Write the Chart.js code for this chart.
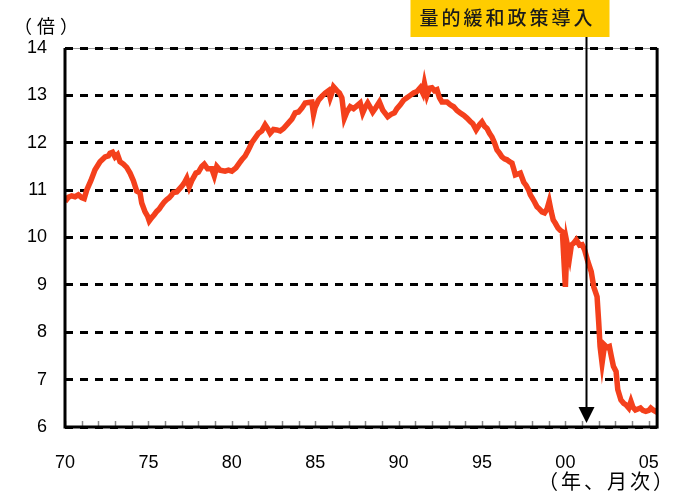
<!DOCTYPE html>
<html>
<head>
<meta charset="utf-8">
<script src="https://cdn.jsdelivr.net/npm/chart.js@4.4.1/dist/chart.umd.min.js"></script>
<style>
  html, body { margin: 0; padding: 0; background: #fff; }
</style>
</head>
<body>
<canvas id="chart" width="676" height="491"></canvas>
<script>
// 年（小数表示）と倍率
const dates = [
  1970.0, 1970.2, 1970.4, 1970.6, 1970.8, 1971.0, 1971.15, 1971.3, 1971.55, 1971.8,
  1972.1, 1972.4, 1972.6, 1972.7, 1972.85, 1973.0, 1973.15, 1973.3, 1973.5, 1973.7,
  1973.9, 1974.1, 1974.3, 1974.5, 1974.6, 1974.8, 1974.95, 1975.05, 1975.2, 1975.35,
  1975.5, 1975.65, 1975.8, 1975.95, 1976.1, 1976.25, 1976.4, 1976.5, 1976.7, 1976.85,
  1977.0, 1977.15, 1977.3, 1977.45, 1977.6, 1977.85, 1978.0, 1978.2, 1978.35, 1978.55,
  1978.8, 1978.95, 1979.1, 1979.3, 1979.6, 1979.8, 1980.0, 1980.25, 1980.45, 1980.6,
  1980.8, 1981.0, 1981.2, 1981.4, 1981.6, 1981.8, 1982.0, 1982.15, 1982.3, 1982.5,
  1982.7, 1982.9, 1983.1, 1983.4, 1983.6, 1983.8, 1984.0, 1984.2, 1984.4, 1984.6,
  1984.8, 1984.9, 1985.0, 1985.2, 1985.4, 1985.6, 1985.8, 1985.9, 1986.0, 1986.1,
  1986.3, 1986.45, 1986.6, 1986.75, 1986.9, 1987.1, 1987.3, 1987.5, 1987.7, 1987.85,
  1988.0, 1988.15, 1988.3, 1988.45, 1988.65, 1988.85, 1989.05, 1989.2, 1989.35, 1989.55,
  1989.75, 1989.9, 1990.1, 1990.3, 1990.5, 1990.7, 1990.9, 1991.1, 1991.3, 1991.45,
  1991.55, 1991.7, 1991.85, 1992.0, 1992.15, 1992.3, 1992.45, 1992.6, 1992.9, 1993.1,
  1993.3, 1993.5, 1993.7, 1993.9, 1994.1, 1994.3, 1994.45, 1994.65, 1994.85, 1995.0,
  1995.15, 1995.3, 1995.45, 1995.6, 1995.75, 1995.9, 1996.05, 1996.2, 1996.35, 1996.5,
  1996.65, 1996.8, 1996.9, 1997.0, 1997.15, 1997.3, 1997.5, 1997.65, 1997.8, 1997.9,
  1998.0, 1998.15, 1998.3, 1998.45, 1998.6, 1998.75, 1998.9, 1999.03, 1999.15, 1999.27,
  1999.4, 1999.56, 1999.7, 1999.82, 1999.9, 2000.0, 2000.1, 2000.26, 2000.36, 2000.5,
  2000.65, 2000.85, 2001.0, 2001.15, 2001.35, 2001.55, 2001.7, 2001.9, 2002.0, 2002.08,
  2002.2, 2002.35, 2002.5, 2002.64, 2002.75, 2002.88, 2003.04, 2003.14, 2003.33, 2003.5,
  2003.63, 2003.8, 2003.93, 2004.05, 2004.2, 2004.35, 2004.5, 2004.65, 2004.82, 2005.0,
  2005.12, 2005.25, 2005.4, 2005.5
];
const ratio = [
  10.76, 10.85, 10.88, 10.86, 10.9, 10.84, 10.82, 11.0, 11.2, 11.43,
  11.6, 11.7, 11.72, 11.78, 11.8, 11.7, 11.75, 11.6, 11.55, 11.48,
  11.36, 11.2, 10.98, 10.94, 10.73, 10.54, 10.45, 10.35, 10.42, 10.48,
  10.55, 10.6, 10.68, 10.75, 10.8, 10.84, 10.9, 10.95, 10.96, 11.02,
  11.08, 11.15, 11.25, 11.07, 11.2, 11.36, 11.38, 11.5, 11.55, 11.45,
  11.45, 11.3, 11.5, 11.42, 11.4, 11.42, 11.4, 11.47, 11.57, 11.64,
  11.72, 11.85, 12.0, 12.1, 12.2, 12.25, 12.38, 12.3, 12.2, 12.28,
  12.27, 12.25, 12.3, 12.42, 12.5, 12.63, 12.65, 12.73, 12.84, 12.85,
  12.86, 12.6, 12.75, 12.9, 12.98, 13.05, 13.1, 12.95, 13.05, 13.18,
  13.1, 13.05, 12.95, 12.52, 12.65, 12.76, 12.72, 12.78, 12.84, 12.63,
  12.75, 12.84, 12.75, 12.65, 12.75, 12.86, 12.69, 12.62, 12.55, 12.6,
  12.63, 12.72, 12.8, 12.9, 12.95, 13.0, 13.05, 13.08, 13.16, 13.05,
  13.25, 13.0, 13.15, 13.16, 13.1, 13.12, 12.95, 12.86, 12.86, 12.8,
  12.76, 12.68, 12.63, 12.58, 12.52, 12.45, 12.4, 12.27, 12.38, 12.44,
  12.35, 12.3, 12.2, 12.12, 12.0, 11.85, 11.78, 11.7, 11.66, 11.64,
  11.6, 11.57, 11.45, 11.32, 11.34, 11.36, 11.17, 11.1, 11.0, 10.9,
  10.84, 10.75, 10.65, 10.6, 10.54, 10.52, 10.6, 10.76, 10.55, 10.37,
  10.3, 10.2, 10.15, 10.12, 9.6, 8.96, 9.88, 9.6, 9.84, 9.88,
  9.95, 9.84, 9.85, 9.74, 9.49, 9.28, 8.96, 8.75, 8.2, 7.7,
  7.35, 7.73, 7.68, 7.7, 7.5, 7.28, 7.17, 6.79, 6.57, 6.5,
  6.47, 6.4, 6.54, 6.42, 6.36, 6.38, 6.4, 6.35, 6.33, 6.35,
  6.4, 6.36, 6.33, 6.38
];
const xTicks = [1970, 1975, 1980, 1985, 1990, 1995, 2000, 2005];
const yTicks = [6, 7, 8, 9, 10, 11, 12, 13, 14];
const policyDate = 2001.25;
const policyLabel = "量的緩和政策導入";
const yUnit = "（倍）";
const xUnit = "（年、月次）";

const LATIN = '"Liberation Sans", Arial, sans-serif';
const CJK = '"Noto Sans CJK JP", sans-serif';

const decorations = {
  id: "decorations",
  beforeDraw(chart) {
    const { ctx, chartArea: a } = chart;
    ctx.save();
    ctx.strokeStyle = "#999";
    ctx.lineWidth = 1;
    ctx.beginPath();
    ctx.moveTo(a.left, a.top + 0.5);
    ctx.lineTo(a.right, a.top + 0.5);
    ctx.stroke();
    ctx.restore();
  },
  afterDatasetsDraw(chart) {
    const { ctx, chartArea: a, scales: { x } } = chart;
    ctx.save();

    // 年ごとの目盛り
    ctx.strokeStyle = "#888";
    ctx.lineWidth = 1.5;
    for (let yr = Math.ceil(x.min); yr <= x.max; yr++) {
      const px = Math.round(x.getPixelForValue(yr)) + 0.5;
      ctx.beginPath();
      ctx.moveTo(px, a.bottom);
      ctx.lineTo(px, a.bottom - 6);
      ctx.stroke();
    }

    // 枠
    ctx.strokeStyle = "#000";
    ctx.lineWidth = 3;
    ctx.beginPath();
    ctx.moveTo(a.left, a.top);
    ctx.lineTo(a.left, a.bottom);
    ctx.lineTo(a.right, a.bottom);
    ctx.lineTo(a.right, a.top);
    ctx.stroke();

    // 矢印
    const ax = Math.round(x.getPixelForValue(policyDate)) + 0.5;
    const tipY = a.bottom - 4;
    ctx.lineWidth = 2;
    ctx.beginPath();
    ctx.moveTo(ax, 36);
    ctx.lineTo(ax, tipY - 14);
    ctx.stroke();
    ctx.fillStyle = "#000";
    ctx.beginPath();
    ctx.moveTo(ax - 8, tipY - 16);
    ctx.lineTo(ax + 8, tipY - 16);
    ctx.lineTo(ax, tipY);
    ctx.closePath();
    ctx.fill();

    // ラベル
    ctx.fillStyle = "#FFCC00";
    ctx.fillRect(ax - 176, 0, 199, 37);
    ctx.fillStyle = "#1a1a1a";
    ctx.font = "500 19px " + CJK;
    ctx.letterSpacing = "3px";
    ctx.textAlign = "left";
    ctx.textBaseline = "middle";
    ctx.fillText(policyLabel, ax - 167, 18);

    ctx.fillStyle = "#000";
    ctx.font = "18px " + CJK;
    ctx.letterSpacing = "5px";
    ctx.textAlign = "left";
    ctx.fillText(yUnit, 14, 26);
    ctx.textAlign = "right";
    ctx.font = "20px " + CJK;
    ctx.letterSpacing = "3px";
    ctx.fillText(xUnit, 676, 481);
    ctx.restore();
  }
};

new Chart(document.getElementById("chart"), {
  type: "line",
  data: {
    datasets: [{
      data: dates.map((d, i) => ({ x: d, y: ratio[i] })),
      borderColor: "#F4401C",
      borderWidth: 5.5,
      pointRadius: 0,
      tension: 0,
      fill: false
    }]
  },
  options: {
    responsive: false,
    animation: false,
    layout: { padding: { top: 48, right: 15, left: 0, bottom: 0 } },
    plugins: { legend: { display: false }, tooltip: { enabled: false } },
    scales: {
      x: {
        type: "linear",
        min: 1970,
        max: 2005.5,
        afterFit: (s) => { s.height = 64; },
        afterBuildTicks: (s) => { s.ticks = xTicks.map((v) => ({ value: v })); },
        grid: { display: false },
        border: { display: false },
        ticks: {
          padding: 17,
          color: "#000",
          font: { family: LATIN, size: 18 },
          maxRotation: 0,
          autoSkip: false,
          callback: (v) => String(v % 100).padStart(2, "0")
        }
      },
      y: {
        min: 6,
        max: 14,
        afterFit: (s) => { s.width = 65; },
        afterBuildTicks: (s) => { s.ticks = yTicks.map((v) => ({ value: v })); },
        grid: { color: "#000", lineWidth: 3, drawTicks: false },
        border: { display: false, dash: [8, 7] },
        ticks: {
          padding: 18,
          color: "#000",
          font: { family: LATIN, size: 18 }
        }
      }
    }
  },
  plugins: [decorations]
});
</script>
</body>
</html>
